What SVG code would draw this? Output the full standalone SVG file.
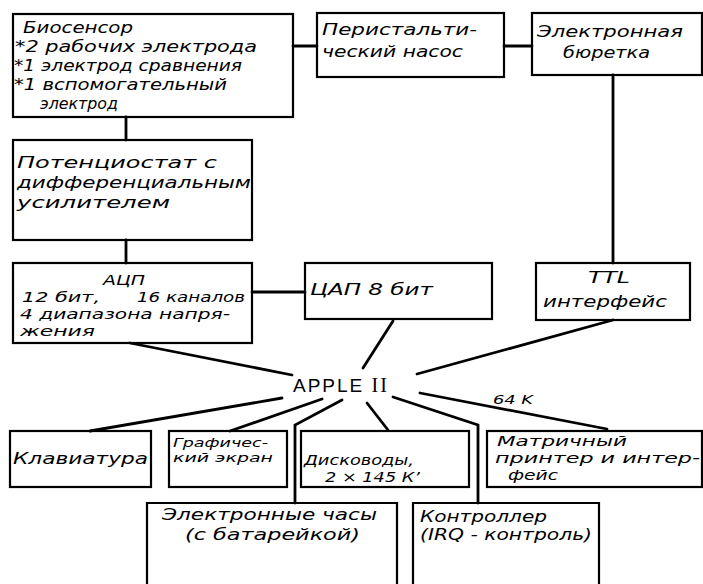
<svg xmlns="http://www.w3.org/2000/svg" width="703" height="584" viewBox="0 0 703 584">
  <style>
    .box { fill: none; stroke: #000; stroke-width: 2.2; }
    .wire { fill: none; stroke: #000; stroke-width: 2.8; stroke-linecap: round; stroke-linejoin: miter; }
    .t { font-family: "DejaVu Sans", "Liberation Sans", sans-serif; font-style: italic; font-size: 16px; fill: #000; }
    .m { font-size: 14.5px; }
    .s { font-size: 13px; }
    .hub { font-family: "Liberation Sans", "DejaVu Sans", sans-serif; font-size: 19px; fill: #000; letter-spacing: 2px; }
  </style>
  <rect x="0" y="0" width="703" height="584" fill="#fff"/>

  <!-- connectors -->
  <g id="connectors">
    <line class="wire" x1="293" y1="46" x2="317" y2="46"/>
    <line class="wire" x1="504" y1="46" x2="532" y2="46"/>
    <line class="wire" x1="126" y1="117" x2="126" y2="140"/>
    <line class="wire" x1="126" y1="240" x2="126" y2="263"/>
    <line class="wire" x1="613" y1="75" x2="613" y2="263"/>
    <line class="wire" x1="252" y1="292" x2="305" y2="292"/>
    <line class="wire" x1="130" y1="343" x2="292" y2="375"/>
    <line class="wire" x1="393" y1="321" x2="363" y2="368"/>
    <line class="wire" x1="613" y1="320" x2="417" y2="374"/>
    <line class="wire" x1="420" y1="393" x2="607" y2="429"/>
    <line class="wire" x1="282" y1="398" x2="90" y2="431"/>
    <line class="wire" x1="322" y1="399" x2="230" y2="431"/>
    <polyline class="wire" points="342,400 295,425 295,503"/>
    <line class="wire" x1="367" y1="403" x2="388" y2="430"/>
    <polyline class="wire" points="393,397 478,425 478,503"/>
  </g>

  <!-- hub -->
  <g id="apple">
    <text class="hub" x="293" y="392">APPLE <tspan font-family="Liberation Serif, serif" font-size="20px">II</tspan></text>
    <text class="t s" x="493" y="404" textLength="40" lengthAdjust="spacingAndGlyphs">64 K</text>
  </g>

  <g id="biosensor">
    <rect class="box" x="13" y="14" width="280" height="103"/>
    <text class="t" x="23" y="33" textLength="110" lengthAdjust="spacingAndGlyphs">Биосенсор</text>
    <text class="t" x="15" y="52" textLength="242" lengthAdjust="spacingAndGlyphs">*2 рабочих электрода</text>
    <text class="t" x="14" y="71" textLength="228" lengthAdjust="spacingAndGlyphs">*1 электрод сравнения</text>
    <text class="t" x="14" y="90" textLength="213" lengthAdjust="spacingAndGlyphs">*1 вспомогательный</text>
    <text class="t" x="40" y="109" textLength="78" lengthAdjust="spacingAndGlyphs">электрод</text>
  </g>

  <g id="pump">
    <rect class="box" x="317" y="13" width="187" height="64"/>
    <text class="t" x="322" y="35" textLength="155" lengthAdjust="spacingAndGlyphs">Перистальти-</text>
    <text class="t" x="322" y="57" textLength="141" lengthAdjust="spacingAndGlyphs">ческий насос</text>
  </g>

  <g id="burette">
    <rect class="box" x="532" y="13" width="170" height="62"/>
    <text class="t" x="537" y="37" textLength="146" lengthAdjust="spacingAndGlyphs">Электронная</text>
    <text class="t" x="563" y="58" textLength="87" lengthAdjust="spacingAndGlyphs">бюретка</text>
  </g>

  <g id="potentiostat">
    <rect class="box" x="13" y="140" width="239" height="100"/>
    <text class="t" x="17" y="168" textLength="200" lengthAdjust="spacingAndGlyphs">Потенциостат с</text>
    <text class="t" x="17" y="188" textLength="234" lengthAdjust="spacingAndGlyphs">дифференциальным</text>
    <text class="t" x="17" y="208" textLength="153" lengthAdjust="spacingAndGlyphs">усилителем</text>
  </g>

  <g id="adc">
    <rect class="box" x="13" y="263" width="239" height="80"/>
    <text class="t m" x="103" y="285" textLength="42" lengthAdjust="spacingAndGlyphs">АЦП</text>
    <text class="t m" x="22" y="302" textLength="78" lengthAdjust="spacingAndGlyphs">12 бит,</text>
    <text class="t m" x="137" y="302" textLength="108" lengthAdjust="spacingAndGlyphs">16 каналов</text>
    <text class="t m" x="20" y="319" textLength="210" lengthAdjust="spacingAndGlyphs">4 диапазона напря-</text>
    <text class="t m" x="20" y="336" textLength="75" lengthAdjust="spacingAndGlyphs">жения</text>
  </g>

  <g id="dac">
    <rect class="box" x="305" y="263" width="187" height="56"/>
    <text class="t" x="310" y="295" textLength="123" lengthAdjust="spacingAndGlyphs">ЦАП  8 бит</text>
  </g>

  <g id="ttl">
    <rect class="box" x="536" y="263" width="154" height="57"/>
    <text class="t" x="588" y="283" textLength="42" lengthAdjust="spacingAndGlyphs">TTL</text>
    <text class="t" x="543" y="307" textLength="124" lengthAdjust="spacingAndGlyphs">интерфейс</text>
  </g>

  <g id="keyboard">
    <rect class="box" x="10" y="431" width="141" height="56"/>
    <text class="t" x="13" y="464" textLength="135" lengthAdjust="spacingAndGlyphs">Клавиатура</text>
  </g>

  <g id="graphics">
    <rect class="box" x="169" y="431" width="118" height="56"/>
    <text class="t s" x="173" y="447" textLength="95" lengthAdjust="spacingAndGlyphs">Графичес-</text>
    <text class="t s" x="173" y="462" textLength="100" lengthAdjust="spacingAndGlyphs">кий экран</text>
  </g>

  <g id="disks">
    <rect class="box" x="301" y="431" width="168" height="56"/>
    <text class="t m" x="304" y="465" textLength="110" lengthAdjust="spacingAndGlyphs">Дисководы,</text>
    <text class="t m" x="325" y="482" textLength="95" lengthAdjust="spacingAndGlyphs">2 × 145 К’</text>
  </g>

  <g id="printer">
    <rect class="box" x="487" y="431" width="215" height="56"/>
    <text class="t m" x="497" y="446" textLength="130" lengthAdjust="spacingAndGlyphs">Матричный</text>
    <text class="t m" x="495" y="463" textLength="205" lengthAdjust="spacingAndGlyphs">принтер и интер-</text>
    <text class="t m" x="508" y="480" textLength="50" lengthAdjust="spacingAndGlyphs">фейс</text>
  </g>

  <g id="clock">
    <path class="box" d="M147,586 V503 H397 V586"/>
    <text class="t" x="162" y="520" textLength="215" lengthAdjust="spacingAndGlyphs">Электронные часы</text>
    <text class="t" x="185" y="540" textLength="175" lengthAdjust="spacingAndGlyphs">(с батарейкой)</text>
  </g>

  <g id="controller">
    <path class="box" d="M413,586 V503 H599 V586"/>
    <text class="t" x="420" y="522" textLength="127" lengthAdjust="spacingAndGlyphs">Контроллер</text>
    <text class="t" x="420" y="540" textLength="172" lengthAdjust="spacingAndGlyphs">(IRQ - контроль)</text>
  </g>
</svg>
